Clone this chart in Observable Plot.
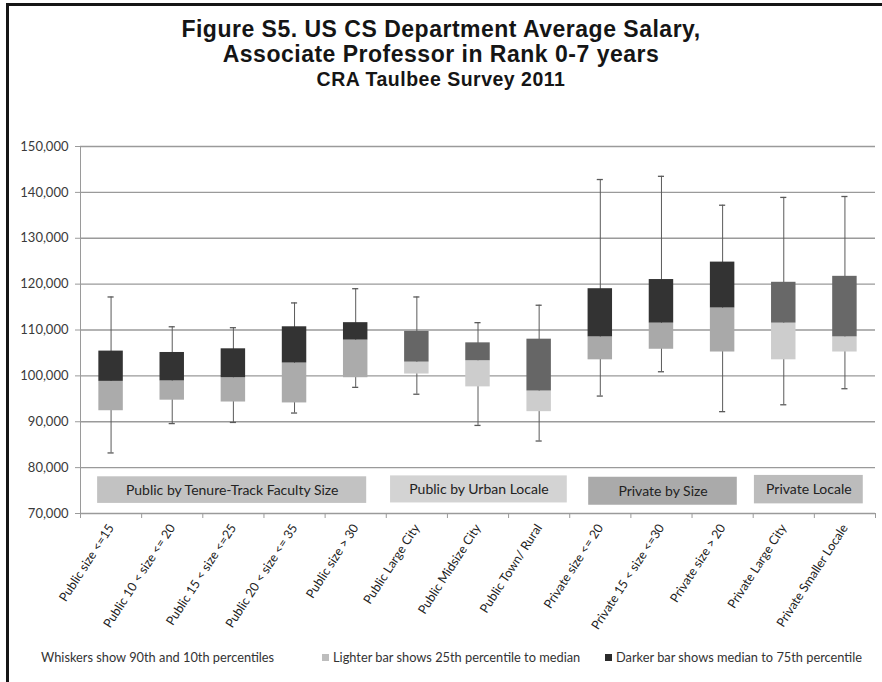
<!DOCTYPE html>
<html><head><meta charset="utf-8">
<script src="https://cdn.jsdelivr.net/npm/d3@7"></script>
<script src="https://cdn.jsdelivr.net/npm/@observablehq/plot@0.6"></script>
<style>
html,body{margin:0;padding:0;background:#fff}
body{width:882px;height:682px;overflow:hidden;position:relative;font-family:Lato,"Open Sans",sans-serif}
#frame{position:absolute;left:6px;top:3px;width:920px;height:720px;border:3px solid #151515;box-sizing:border-box}
#title{position:absolute;left:0;top:17px;width:882px;text-align:center;font-family:"Liberation Sans",Arial,sans-serif;font-weight:bold;color:#151515}
#title .l{font-size:23px;line-height:25px;letter-spacing:0.5px}
#title .s{font-size:19.5px;line-height:25px;letter-spacing:0.5px}
#chart{position:absolute;left:0;top:130px}
#legend{position:absolute;left:0;top:649px;width:882px;font-size:12.8px;color:#333;white-space:nowrap}
#legend span{position:absolute;top:0}
.sw{display:inline-block;width:7px;height:7px;margin-right:4px;vertical-align:1px}
</style></head>
<body>
<div id="frame"></div>
<div id="title"><div class="l">Figure S5. US CS Department Average Salary,</div><div class="l">Associate Professor in Rank 0-7 years</div><div class="s">CRA Taulbee Survey 2011</div></div>
<div id="chart"></div>
<div id="legend">
<span style="left:41px">Whiskers show 90th and 10th percentiles</span>
<span style="left:322px"><i class="sw" style="background:#bdbdbd"></i>Lighter bar shows 25th percentile to median</span>
<span style="left:605px"><i class="sw" style="background:#2b2b2b"></i>Darker bar shows median to 75th percentile</span>
</div>
<script>
const categories = ["Public size <=15", "Public 10 < size <= 20", "Public 15 < size <=25", "Public 20 < size <= 35", "Public size > 30", "Public Large City", "Public Midsize City", "Public Town/ Rural", "Private size <= 20", "Private 15 < size <=30", "Private size > 20", "Private Large City", "Private Smaller Locale"];
const groupOf = [0,0,0,0,0,1,1,1,2,2,2,3,3];
const p10    = [83200, 89600, 89850, 91900, 97500, 96000, 89200, 85800, 95600, 100900, 92200, 93700, 97200];
const p25    = [92400, 94700, 94300, 94100, 99600, 100400, 97600, 92200, 103500, 105800, 105200, 103500, 105200];
const median = [98800, 98900, 99600, 102800, 107800, 103000, 103300, 96700, 108500, 111500, 114800, 111500, 108500];
const p75    = [105400, 105100, 105900, 110700, 111600, 109700, 107200, 108000, 119000, 121000, 124800, 120400, 121700];
const p90    = [117200, 110700, 110500, 115900, 119000, 117200, 111600, 115400, 142800, 143500, 137200, 138900, 139100];
const yTicks = [70000, 80000, 90000, 100000, 110000, 120000, 130000, 140000, 150000];
const groupLabels = ["Public by Tenure-Track Faculty Size", "Public by Urban Locale", "Private by Size", "Private Locale"];
const groupFrom = [0.28, 5.07, 8.31, 11.02];
const groupTo   = [4.68, 7.96, 10.74, 12.8];
const groupLow  = [72200, 72300, 71800, 72100];
const groupHigh = [78000, 78200, 77900, 78300];

const lightFill = ["#ababab", "#cdcdcd", "#a9a9a9", "#cdcdcd"];
const darkFill  = ["#333333", "#666666", "#333333", "#686868"];
const labelFill = ["#c2c2c2", "#d3d3d3", "#aaaaaa", "#bcbcbc"];

const rows = categories.map((c, i) => ({i, c, g: groupOf[i], p10: p10[i], p25: p25[i], median: median[i], p75: p75[i], p90: p90[i]}));
const groups = groupLabels.map((t, k) => ({k, t, x1: groupFrom[k], x2: groupTo[k], y1: groupLow[k], y2: groupHigh[k]}));
const n = categories.length;

const chart = Plot.plot({
  width: 882, height: 512,
  marginLeft: 80, marginRight: 7, marginTop: 16, marginBottom: 129,
  x: {type: "linear", domain: [0, n]},
  y: {domain: [70000, 150000]},
  color: {type: "identity"},
  style: {fontFamily: "Lato, 'Open Sans', sans-serif", fontSize: "12px", color: "#333", background: "transparent"},
  marks: [
    Plot.ruleY(yTicks, {stroke: "#9a9a9a", strokeWidth: 1.3}),
    Plot.ruleX([0], {stroke: "#9a9a9a"}),
    Plot.axisY(yTicks, {tickFormat: d3.format(","), tickSize: 5, tickPadding: 7, stroke: "#9a9a9a", label: null, fontSize: 13, fill: "#3a3a3a"}),
    Plot.axisX(d3.range(0, n + 1), {tickFormat: () => "", tickSize: 5, stroke: "#9a9a9a", label: null}),
    Plot.axisX(rows.map(d => d.i + 0.5), {tickFormat: v => categories[Math.floor(v)], tickRotate: -57, tickSize: 0, tickPadding: 12, label: null, fontSize: 12.5, fill: "#222"}),
    Plot.rect(groups, {x1: "x1", x2: "x2", y1: "y1", y2: "y2", fill: d => labelFill[d.k]}),
    Plot.text(groups, {x: d => (d.x1 + d.x2) / 2, y: d => (d.y1 + d.y2) / 2, text: "t", fontSize: 14, fill: "#222"}),
    Plot.ruleX(rows, {x: d => d.i + 0.5, y1: "p10", y2: "p90", stroke: "#5a5a5a", strokeWidth: 1}),
    Plot.ruleY(rows, {x1: d => d.i + 0.45, x2: d => d.i + 0.55, y: "p10", stroke: "#5a5a5a", strokeWidth: 1.3}),
    Plot.ruleY(rows, {x1: d => d.i + 0.45, x2: d => d.i + 0.55, y: "p90", stroke: "#5a5a5a", strokeWidth: 1.3}),
    Plot.rect(rows, {x1: d => d.i + 0.3, x2: d => d.i + 0.7, y1: "p25", y2: "median", fill: d => lightFill[d.g]}),
    Plot.rect(rows, {x1: d => d.i + 0.3, x2: d => d.i + 0.7, y1: "median", y2: "p75", fill: d => darkFill[d.g]})
  ]
});
document.getElementById("chart").appendChild(chart);
</script>
</body></html>
